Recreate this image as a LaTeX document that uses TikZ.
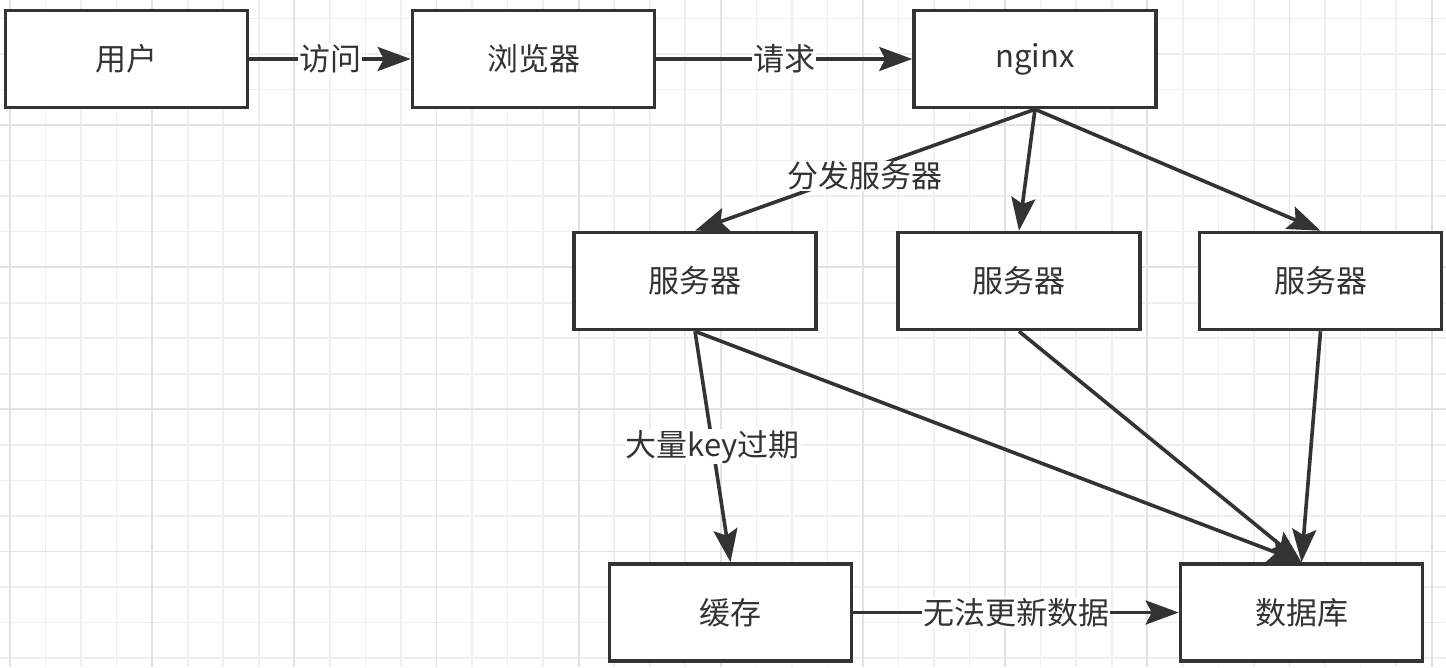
\documentclass[tikz,border=0pt]{standalone}
\usepackage{fontspec}
\setmainfont{Noto Sans CJK SC}
\usetikzlibrary{arrows.meta}
\definecolor{ink}{HTML}{333333}
\definecolor{gridminor}{HTML}{EFEFEF}
\definecolor{gridmajor}{HTML}{E2E2E2}
\begin{document}
\begin{tikzpicture}[x=1pt,y=-1pt,
  box/.style={draw=ink, line width=3.6pt, fill=white, minimum width=242pt, minimum height=97pt, font=\fontsize{31}{36}\selectfont, text=ink, inner sep=0pt},
  conn/.style={draw=ink, line width=3.6pt, -{Stealth[length=33pt,width=24pt,inset=6pt]}},
  lbl/.style={fill=white, text=ink, font=\fontsize{31}{36}\selectfont, inner sep=1pt}]
\useasboundingbox (0,0) rectangle (1446,667);
\fill[white] (0,0) rectangle (1446,667);
% grid
\foreach \i in {0,...,40} {
  \pgfmathsetmacro\xx{10+35.54*\i}
  \draw[gridminor, line width=1.6pt] (\xx,0) -- (\xx,667);
}
\foreach \j in {0,...,18} {
  \pgfmathsetmacro\yy{18.3+35.55*\j}
  \draw[gridminor, line width=1.6pt] (0,\yy) -- (1446,\yy);
}
\foreach \i in {0,4,...,40} {
  \pgfmathsetmacro\xx{10+35.54*\i}
  \draw[gridmajor, line width=1.8pt] (\xx,0) -- (\xx,667);
}
\foreach \j in {3,7,11,15} {
  \pgfmathsetmacro\yy{18.3+35.55*\j}
  \draw[gridmajor, line width=1.8pt] (0,\yy) -- (1446,\yy);
}
% nodes
\node[box] (user) at (126.5,59) {用户};
\node[box] (browser) at (533.5,59) {浏览器};
\node[box] (nginx) at (1035,59) {nginx};
\node[box] (s1) at (695,281) {服务器};
\node[box] (s2) at (1019,281) {服务器};
\node[box] (s3) at (1320.5,281) {服务器};
\node[box] (cache) at (730.5,612.5) {缓存};
\node[box] (db) at (1301.5,612.5) {数据库};
% connectors
\draw[conn] (user) -- node[lbl]{访问} (browser);
\draw[conn] (browser) -- node[lbl]{请求} (nginx);
\draw[conn] (nginx.south) -- node[lbl, pos=0.5, yshift=-6pt]{分发服务器} (s1.north);
\draw[conn] (nginx.south) -- (s2.north);
\draw[conn] (nginx.south) -- (s3.north);
\draw[conn] (s1.south) -- node[lbl]{大量key过期} (cache.north);
\draw[conn] (s1.south) -- (db.north);
\draw[conn] (s2.south) -- (db.north);
\draw[conn] (s3.south) -- (db.north);
\draw[conn] (cache) -- node[lbl]{无法更新数据} (db);
\end{tikzpicture}
\end{document}
